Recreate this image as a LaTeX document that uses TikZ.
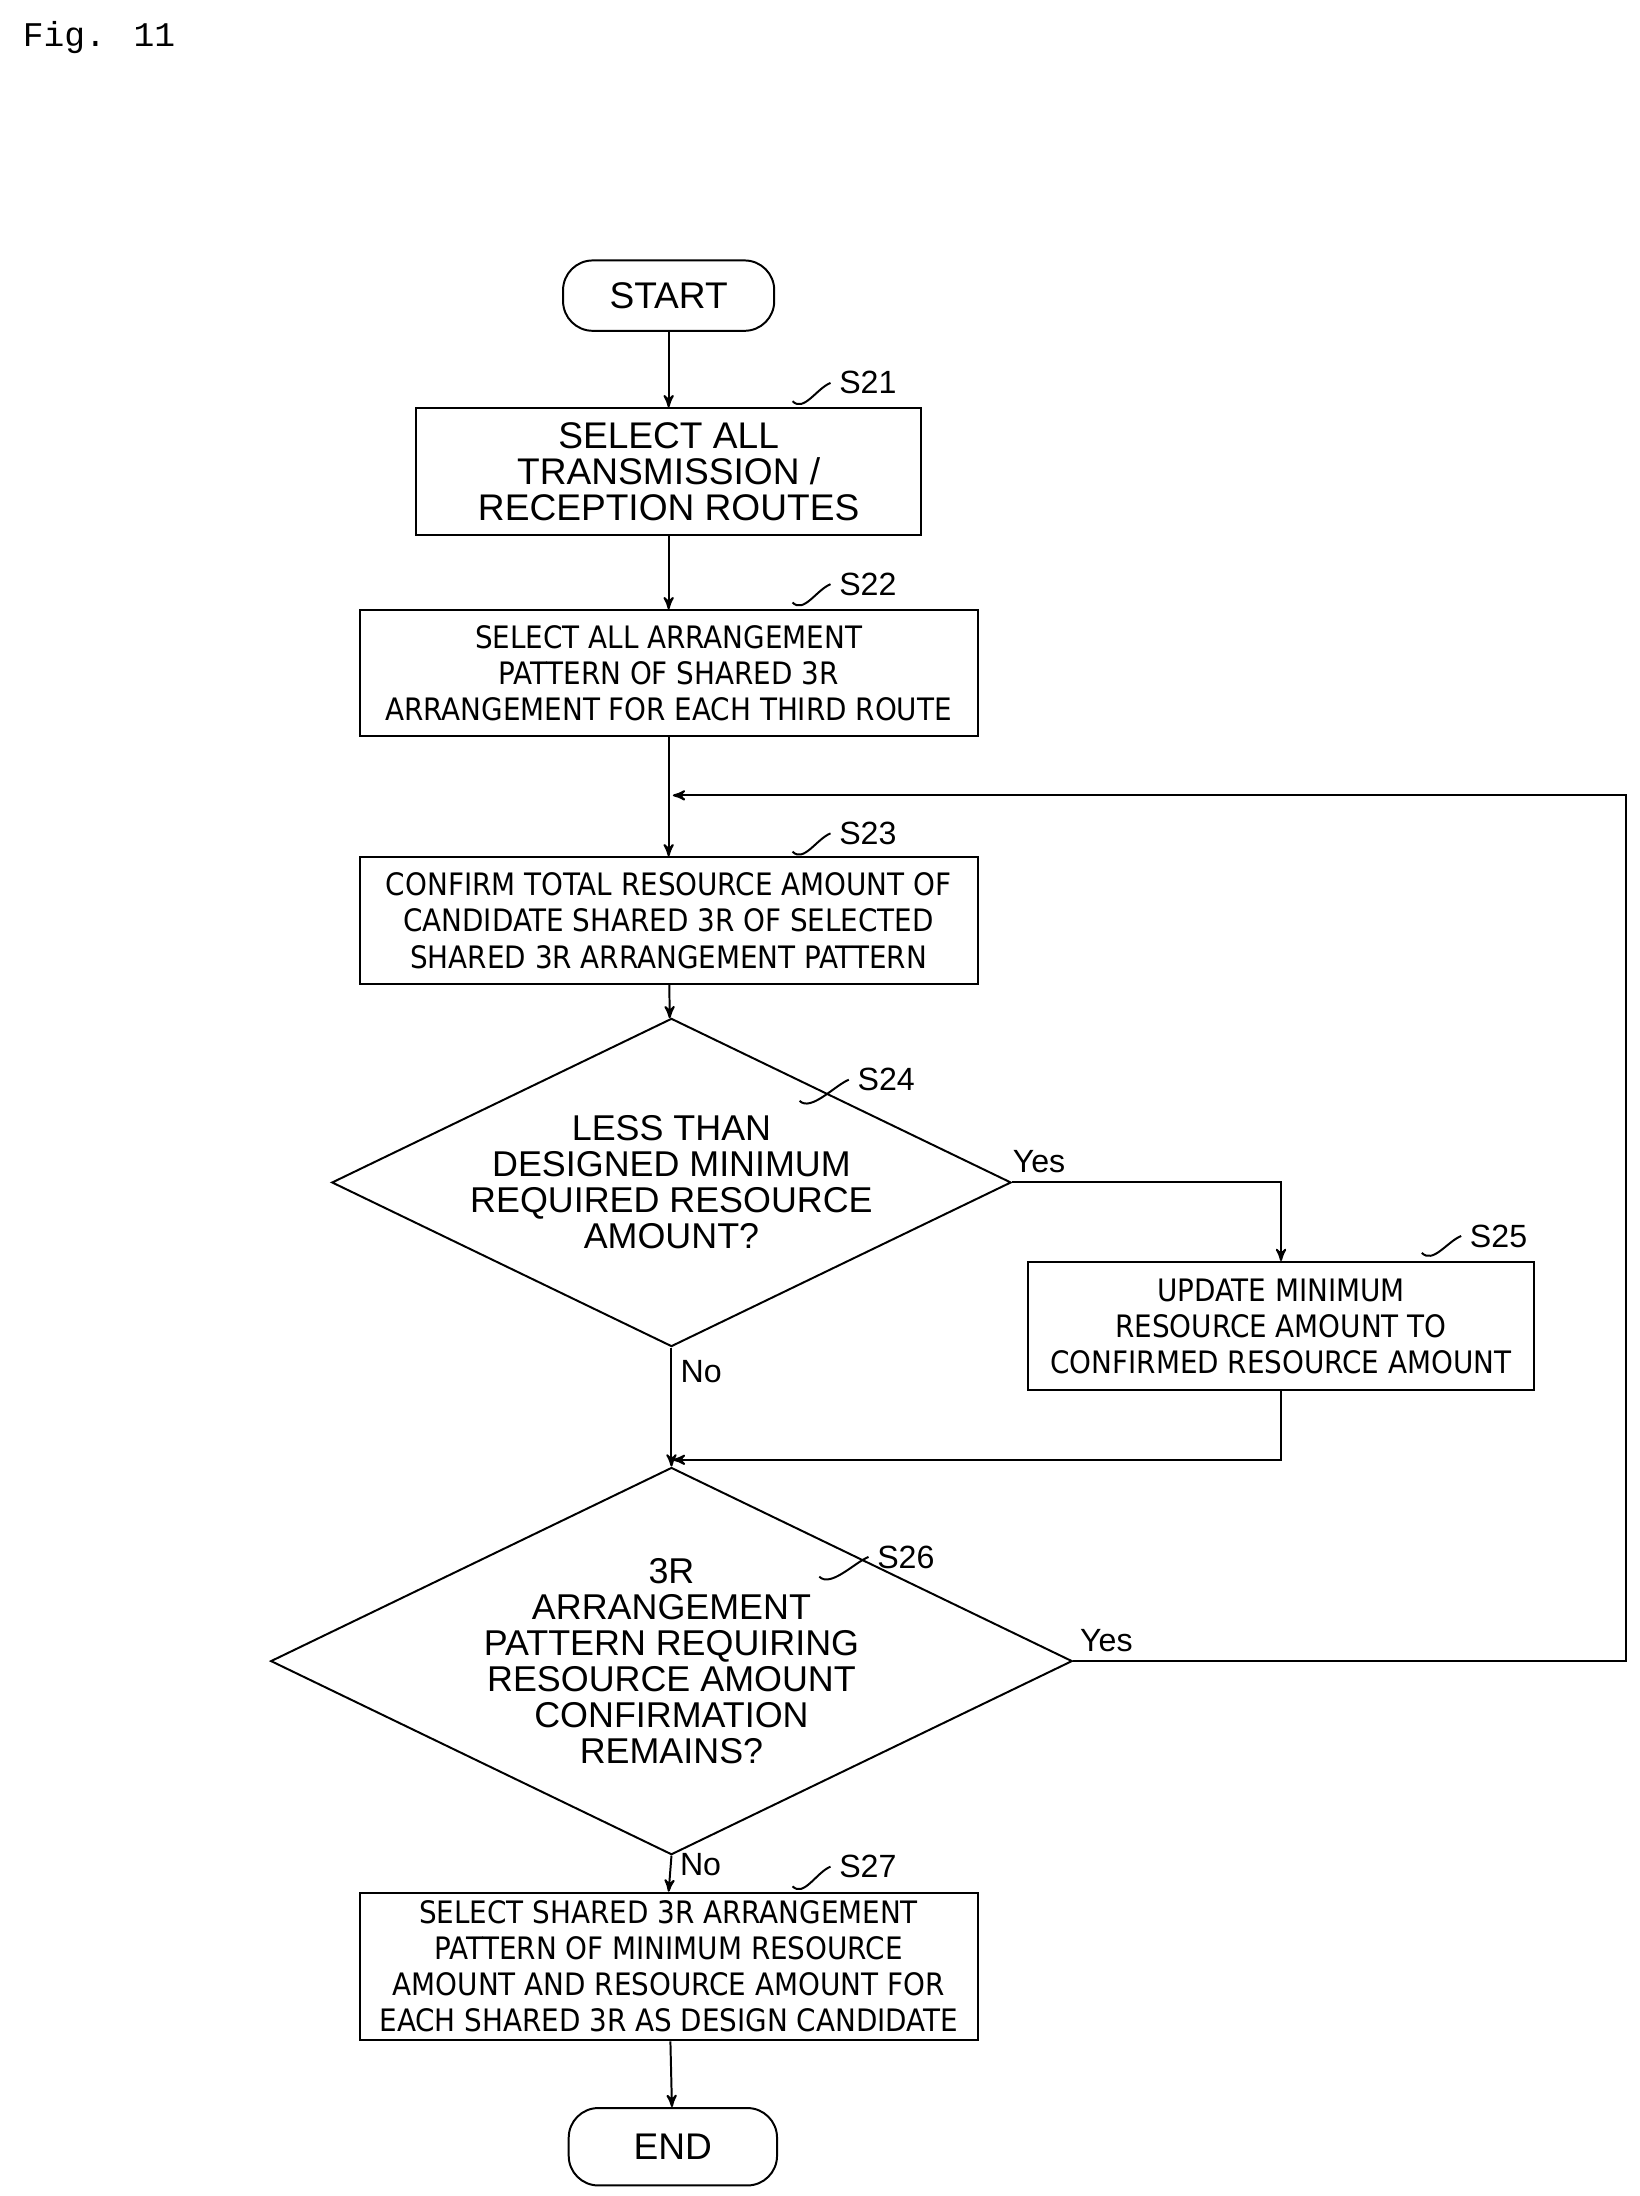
\documentclass[tikz,border=0pt]{standalone}
\usepackage{fontspec}
\setmainfont{Liberation Sans}
\newfontfamily\condfont{DejaVu Sans Condensed}
\newfontfamily\figfont{Liberation Mono}
\usetikzlibrary{shapes,positioning,arrows,calc}
\tikzset{>=stealth', line/.style={draw,thick}}
\tikzset{box/.style={draw,thick,rectangle,align=center,inner sep=0,font=\condfont\fontsize{12.5}{14.6}\selectfont}}
\tikzset{bigbox/.style={box,font=\fontsize{15}{14.6}\selectfont}}
\tikzset{term/.style={draw,thick,rounded corners=12pt,font=\fontsize{15}{16}\selectfont}}
\tikzset{dec/.style={draw,thick,diamond,aspect=2.07,inner sep=0,align=center,font=\fontsize{14.5}{14.6}\selectfont}}
\tikzset{lbl/.style={font=\fontsize{13}{14}\selectfont}}
\newcommand{\drawbox}{\node[box]}
\newcommand{\drawstep}{\node[lbl,anchor=west]}
\newcommand{\steptilde}[2]{\draw[thick] (#1) .. controls ($(#1)+(8,8)$) and ($(#2)+(-10,4)$) .. (#2);}

\begin{document}
\begin{tikzpicture}[x=0.02cm,y=-0.02cm]
	\useasboundingbox (0,0) rectangle (1165,1560);
	\node[anchor=west,font=\figfont\fontsize{14}{14}\selectfont] (fig) at (10,27) {Fig. 11};
	
	\node[term,minimum width=150*0.02cm,minimum height=50*0.02cm] (start) at (475,210) {START};
	\drawbox[bigbox,minimum width=359*0.02cm,minimum height=90*0.02cm] (s21) at (475,335) {SELECT ALL\\TRANSMISSION /\\RECEPTION ROUTES};
	\drawbox[minimum width=439*0.02cm,minimum height=89*0.02cm] (s22) at (475,478) {SELECT ALL ARRANGEMENT\\PATTERN OF SHARED 3R\\ARRANGEMENT FOR EACH THIRD ROUTE};
	\drawbox[minimum width=439*0.02cm,minimum height=90*0.02cm] (s23) at (475,654) {CONFIRM TOTAL RESOURCE AMOUNT OF\\CANDIDATE SHARED 3R OF SELECTED\\SHARED 3R ARRANGEMENT PATTERN};
	\node[dec,minimum width=411*0.02cm,minimum height=198*0.02cm] (s24) at (477,840) {LESS THAN\\DESIGNED MINIMUM\\REQUIRED RESOURCE\\AMOUNT?};
	\drawbox[minimum width=359*0.02cm,minimum height=91*0.02cm] (s25) at (910,942) {UPDATE MINIMUM\\RESOURCE AMOUNT TO\\CONFIRMED RESOURCE AMOUNT};
	\node[dec,minimum width=458*0.02cm,minimum height=198*0.02cm] (s26) at (477,1180) {3R\\ARRANGEMENT\\PATTERN REQUIRING\\RESOURCE AMOUNT\\CONFIRMATION\\REMAINS?};
	\drawbox[minimum width=439*0.02cm,minimum height=105*0.02cm] (s27) at (475,1397) {SELECT SHARED 3R ARRANGEMENT\\PATTERN OF MINIMUM RESOURCE\\AMOUNT AND RESOURCE AMOUNT FOR\\EACH SHARED 3R AS DESIGN CANDIDATE};
	\node[term,minimum width=148*0.02cm,minimum height=55*0.02cm] (end) at (478,1525) {END};
	
	% step labels
	\drawstep (l21) at (590,272) {S21};
	\drawstep (l22) at (590,415) {S22};
	\drawstep (l23) at (590,592) {S23};
	\drawstep (l24) at (603,767) {S24};
	\drawstep (l25) at (1038,878) {S25};
	\drawstep (l26) at (617,1106) {S26};
	\drawstep (l27) at (590,1326) {S27};
	\coordinate (t21) at (563,285);
	\coordinate (t22) at (563,428);
	\coordinate (t23) at (563,605);
	\coordinate (t24) at (568,782);
	\coordinate (t25) at (1010,890);
	\coordinate (t26) at (582,1120);
	\coordinate (t27) at (563,1340);
	\foreach \s in {21,22,23,24,25,26,27}{
		\steptilde{t\s}{l\s.west}
	}
	
	% flow
	\coordinate (loop) at (478,565);
	\coordinate (join) at (478,1037);
	\draw[thick,->] (start) -- (s21);
	\draw[thick,->] (s21) -- (s22);
	\draw[thick,->] (s22) -- (s23);
	\draw[thick,->] (s23) -- (s24);
	\draw[thick,->] (s24.east) -| node[pos=0.05,above,lbl] {Yes} (s25.north);
	\draw[thick,->] (s25.south) |- (join);
	\draw[thick,->] (s24.south) -- node[pos=0.2,right,lbl] {No} (s26.north);
	\draw[thick,->] (s26.east) -- node[pos=0.06,above,lbl] {Yes} (1155,1180) |- (loop);
	\draw[thick,->] (s26.south) -- node[pos=0.25,right,lbl] {No} (s27.north);
	\draw[thick,->] (s27) -- (end);
\end{tikzpicture}
\end{document}
